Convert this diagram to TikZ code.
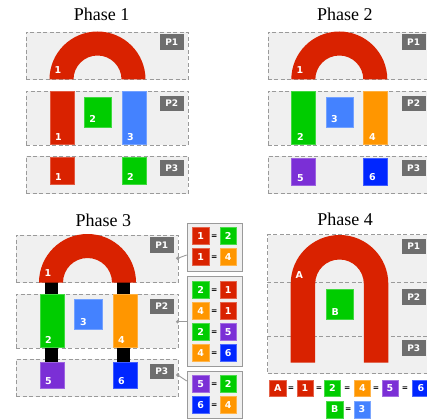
\documentclass[tikz,border=0pt]{standalone}
\usepackage{fontspec}
\setmainfont{Liberation Serif}
\newfontfamily\vfont{DejaVu Sans}
\definecolor{cred}{HTML}{D92200}
\definecolor{cgreen}{HTML}{00CC00}
\definecolor{clblue}{HTML}{4482FF}
\definecolor{corange}{HTML}{FF9600}
\definecolor{cpurple}{HTML}{7B2FD6}
\definecolor{cdblue}{HTML}{0026FF}
\definecolor{panelfill}{HTML}{F0F0F0}
\definecolor{dashgray}{HTML}{9A9A9A}
\definecolor{taggray}{HTML}{6E6E6E}
\tikzset{
  panel/.style={draw=dashgray, dash pattern=on 4pt off 2.5pt, fill=panelfill, line width=0.9pt,
    anchor=north west, inner sep=0pt},
  tagbox/.style={fill=taggray, text=white, font=\vfont\bfseries\fontsize{9}{10}\selectfont,
    minimum width=24pt, minimum height=15.5pt, inner sep=0pt, anchor=north east},
  blkst/.style={anchor=north west, inner sep=0pt, draw=#1!75!white, line width=0.5pt, fill=#1},
  labst/.style={text=white, font=\vfont\bfseries\fontsize{9.5}{10}\selectfont, inner sep=0pt, anchor=base west},
  sqst/.style={fill=#1, draw=#1!70!white, line width=0.5pt, text=white,
    font=\vfont\bfseries\fontsize{9.5}{10}\selectfont, minimum size=16.5pt, inner sep=0pt},
  eqst/.style={font=\vfont\bfseries\fontsize{7.5}{8}\selectfont, inner sep=0pt},
  eqbox/.style={draw=dashgray, fill=panelfill, line width=1.1pt, anchor=north west, inner sep=0pt},
  title/.style={font=\fontsize{18}{20}\selectfont, anchor=base, inner sep=0pt},
  dotst/.style={circle, fill=dashgray, minimum size=3.6pt, inner sep=0pt},
  conn/.style={draw=dashgray, line width=0.9pt},
  link/.style={draw=black, line width=13pt},
}
\newcommand\blk[6]{\node[blkst=#2, minimum width=#5pt, minimum height=#6pt] (#1) at (#3,#4) {};}
\newcommand\lab[3]{\node[labst] (#1-l) at ([xshift=5.5pt,yshift=4.5pt]#1.south west) {#3};}
\newcommand\archpath[4]{(#1-#3,#2) arc[start angle=180,end angle=360,radius=#3] -- (#1+#4,#2)
  arc[start angle=360,end angle=180,radius=#4] -- cycle}
\newcommand\panels[1]{%
  \node[panel, minimum width=162.3pt, minimum height=47.6pt] (#1p1) at (25.7,31.7) {};
  \node[panel, minimum width=162.3pt, minimum height=54.3pt] (#1p2) at (25.7,90.7) {};
  \node[panel, minimum width=162.3pt, minimum height=37.6pt] (#1p3) at (25.7,155.7) {};
  \node[tagbox] (#1t1) at (184,34) {P1};
  \node[tagbox] (#1t2) at (184,95.5) {P2};
  \node[tagbox] (#1t3) at (184,160.3) {P3};}
\begin{document}
\begin{tikzpicture}[x=1pt,y=-1pt]
\useasboundingbox (0,0) rectangle (427,419);

% ---------------- Phase 1
\node[title] (ti1) at (101.7,20.7) {Phase 1};
\begin{scope}
  \panels{a}
  \fill[cred] \archpath{97.5}{79.5}{48}{24};
  \node[labst] (a1-l) at (54.5,73.5) {1};
  \blk{a2a}{cred}{49.5}{90.7}{24}{53.5}\lab{a2a}{}{1}
  \blk{a2b}{cgreen}{83.7}{96.7}{27.3}{30}\lab{a2b}{}{2}
  \blk{a2c}{clblue}{121.5}{90.7}{24}{53.5}\lab{a2c}{}{3}
  \blk{a3a}{cred}{49.5}{157.5}{24}{27}\lab{a3a}{}{1}
  \blk{a3c}{cgreen}{121.5}{157.5}{24}{27}\lab{a3c}{}{2}
\end{scope}

% ---------------- Phase 2
\node[title] (ti2) at (344.8,20.7) {Phase 2};
\begin{scope}[shift={(241.8,0)}]
  \panels{b}
  \fill[cred] \archpath{97.5}{79.5}{48}{24};
  \node[labst] (b1-l) at (54.5,73.5) {1};
  \blk{b2a}{cgreen}{49.5}{90.7}{24}{53.5}\lab{b2a}{}{2}
  \blk{b2b}{clblue}{83.7}{96.7}{27.3}{30}\lab{b2b}{}{3}
  \blk{b2c}{corange}{121.5}{90.7}{24}{53.5}\lab{b2c}{}{4}
  \blk{b3a}{cpurple}{49.5}{158.5}{24}{27}\lab{b3a}{}{5}
  \blk{b3c}{cdblue}{121.5}{158}{24}{27}\lab{b3c}{}{6}
\end{scope}

% ---------------- Phase 3
\node[title] (ti3) at (103.3,226) {Phase 3};
\begin{scope}[shift={(-10,203)}]
  \panels{c}
  \coordinate (cfl) at (61.5,78);
  \coordinate (cfr) at (133.5,78);
  \coordinate (ct2a) at (61.5,91.5);
  \coordinate (ct2c) at (133.5,91.5);
  \coordinate (cb2a) at (61.5,143.5);
  \coordinate (cb2c) at (133.5,143.5);
  \coordinate (ct3a) at (61.5,159);
  \coordinate (ct3c) at (133.5,159);
  \draw[link] (cfl) -- (ct2a);
  \draw[link] (cfr) -- (ct2c);
  \draw[link] (cb2a) -- (ct3a);
  \draw[link] (cb2c) -- (ct3c);
  \fill[cred] \archpath{97.5}{79.5}{48.5}{24.5};
  \node[labst] (c1-l) at (54.5,73.5) {1};
  \blk{c2a}{cgreen}{49.5}{91}{24}{53}\lab{c2a}{}{2}
  \blk{c2b}{clblue}{84.3}{96.3}{27.3}{30}\lab{c2b}{}{3}
  \blk{c2c}{corange}{122.5}{91}{24}{53}\lab{c2c}{}{4}
  \blk{c3a}{cpurple}{49.5}{158.7}{24}{26.7}\lab{c3a}{}{5}
  \blk{c3c}{cdblue}{122.5}{158.7}{24}{26.7}\lab{c3c}{}{6}
  \node[dotst] (d1) at (187.7,55.3) {};
  \node[dotst] (d2) at (187.7,118.7) {};
  \node[dotst] (d3) at (187.7,172) {};
\end{scope}

% equation boxes
\node[eqbox, minimum width=55pt, minimum height=48pt] (e1) at (186.7,222.7) {};
\node[eqbox, minimum width=55pt, minimum height=89.7pt] (e2) at (186.7,276) {};
\node[eqbox, minimum width=55pt, minimum height=47.6pt] (e3) at (186.7,370.7) {};
\coordinate (e1in) at (186.7,255);
\coordinate (e2in) at (186.7,321.7);
\coordinate (e3in) at (186.7,381);
\draw[conn] (d1.center) -- (e1in);
\draw[conn] (d2.center) -- (e2in);
\draw[conn] (d3.center) -- (e3in);
% box 1
\node[sqst=cred] (q11) at (200.7,235.7) {1}; \node[eqst] (q11e) at (214.3,236.2) {=}; \node[sqst=cgreen] (q12) at (228.2,235.7) {2};
\node[sqst=cred] (q21) at (200.7,256.8) {1}; \node[eqst] (q21e) at (214.3,257.3) {=}; \node[sqst=corange] (q22) at (228.2,256.8) {4};
% box 2
\node[sqst=cgreen] (r11) at (200.7,289.8) {2}; \node[eqst] (r11e) at (214.3,290.3) {=}; \node[sqst=cred] (r12) at (228.2,289.8) {1};
\node[sqst=corange] (r21) at (200.7,310.8) {4}; \node[eqst] (r21e) at (214.3,311.3) {=}; \node[sqst=cred] (r22) at (228.2,310.8) {1};
\node[sqst=cgreen] (r31) at (200.7,331.7) {2}; \node[eqst] (r31e) at (214.3,332.2) {=}; \node[sqst=cpurple] (r32) at (228.2,331.7) {5};
\node[sqst=corange] (r41) at (200.7,352.7) {4}; \node[eqst] (r41e) at (214.3,353.2) {=}; \node[sqst=cdblue] (r42) at (228.2,352.7) {6};
% box 3
\node[sqst=cpurple] (s11) at (200.7,383.8) {5}; \node[eqst] (s11e) at (214.3,384.3) {=}; \node[sqst=cgreen] (s12) at (228.2,383.8) {2};
\node[sqst=cdblue] (s21) at (200.7,404.8) {6}; \node[eqst] (s21e) at (214.3,405.3) {=}; \node[sqst=corange] (s22) at (228.2,404.8) {4};

% ---------------- Phase 4
\node[title] (ti4) at (345,225) {Phase 4};
\node[panel, minimum width=162.7pt, minimum height=139pt] (dp) at (267.3,234.3) {};
\coordinate (dv1a) at (267.3,282); \coordinate (dv1b) at (430,282);
\coordinate (dv2a) at (267.3,336.7); \coordinate (dv2b) at (430,336.7);
\draw[draw=dashgray, dash pattern=on 4pt off 2.5pt, line width=0.9pt] (dv1a) -- (dv1b);
\draw[draw=dashgray, dash pattern=on 4pt off 2.5pt, line width=0.9pt] (dv2a) -- (dv2b);
\node[tagbox] (dt1) at (426,238.3) {P1};
\node[tagbox] (dt2) at (426,289) {P2};
\node[tagbox] (dt3) at (426,340) {P3};
\fill[cred] (290.7,362.7) -- (290.7,283.8) arc[start angle=180,end angle=360,radius=48.8]
  -- (388.3,362.7) -- (363.8,362.7) -- (363.8,283.8) arc[start angle=360,end angle=180,radius=24.3]
  -- (315.2,362.7) -- cycle;
\node[labst] (dA) at (295.5,278) {A};
\blk{dB}{cgreen}{326}{289.3}{27.3}{30}\lab{dB}{}{B}
% legend
\node[sqst=cred] (l1) at (277.8,388) {A};
\node[eqst] (l1e) at (291,388.5) {=};
\node[sqst=cred] (l2) at (305,388) {1};
\node[eqst] (l2e) at (319,388.5) {=};
\node[sqst=cgreen] (l3) at (332.3,388) {2};
\node[eqst] (l3e) at (347.3,388.5) {=};
\node[sqst=corange] (l4) at (362.3,388) {4};
\node[eqst] (l4e) at (376,388.5) {=};
\node[sqst=cpurple] (l5) at (390,388) {5};
\node[eqst] (l5e) at (405,388.5) {=};
\node[sqst=cdblue] (l6) at (420.8,388) {6};
\node[sqst=cgreen] (m1) at (334.7,409.5) {B};
\node[eqst] (m1e) at (348.3,410) {=};
\node[sqst=clblue] (m2) at (362,409.5) {3};
\end{tikzpicture}
\end{document}
